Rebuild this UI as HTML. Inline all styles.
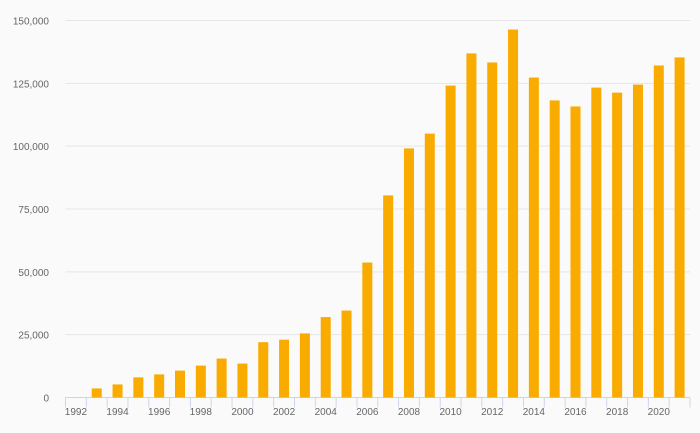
<!DOCTYPE html>
<html><head><meta charset="utf-8"><style>
body{margin:0;background:#fafafa;}
svg{display:block;font-family:"Liberation Sans",sans-serif;}
</style></head><body>
<svg id="chart" width="700" height="433" viewBox="0 0 700 433"></svg>
<script>
const years=[1992,1993,1994,1995,1996,1997,1998,1999,2000,2001,2002,2003,2004,2005,2006,2007,2008,2009,2010,2011,2012,2013,2014,2015,2016,2017,2018,2019,2020,2021];
const values=[0,3600,5200,8000,9200,10700,12700,15500,13500,22000,23000,25500,32000,34600,53700,80400,99100,105000,124100,136900,133300,146400,127300,118200,115800,123300,121300,124500,132100,135300];
const yTicks=[0,25000,50000,75000,100000,125000,150000];
const xLabels=[1992,1994,1996,1998,2000,2002,2004,2006,2008,2010,2012,2014,2016,2018,2020];
const svg=document.getElementById('chart');
const NS='http://www.w3.org/2000/svg';
const x0=65.5,x1=690,y0=397.5,yTop=20.5,yMax=150000;
const band=(x1-x0)/years.length;
const xs=i=>x0+band*i;
const ys=v=>y0-(v/yMax)*(y0-yTop);
function mk(t,a){const e=document.createElementNS(NS,t);for(const k in a)e.setAttribute(k,a[k]);svg.appendChild(e);return e;}
yTicks.forEach(v=>{
  const g=mk('line',{x1:x0,x2:x1,y1:ys(v),y2:ys(v),stroke:v===0?'#ccd6eb':'#e6e6e6','stroke-width':1});
  
  
  const t=mk('text',{x:49,y:ys(v)+4,'text-anchor':'end','font-size':10,fill:'#666'});
  t.textContent=v.toLocaleString('en-US');
  
  
});
for(let i=0;i<=years.length;i++){
  const tk=mk('line',{x1:xs(i),x2:xs(i),y1:y0,y2:y0+10,stroke:'#ccd6eb','stroke-width':1});
  
  
}
years.forEach((yr,i)=>{
  const w=10;
  const r=mk('rect',{x:xs(i)+band/2-w/2,y:ys(values[i]),width:w,height:y0-ys(values[i]),fill:'#f9ab00'});
  
  
});
xLabels.forEach(yr=>{
  const i=years.indexOf(yr);
  const t=mk('text',{x:xs(i)+band/2,y:415,'text-anchor':'middle','font-size':10,fill:'#666'});
  t.textContent=yr;
  
  
});
</script>
</body></html>
